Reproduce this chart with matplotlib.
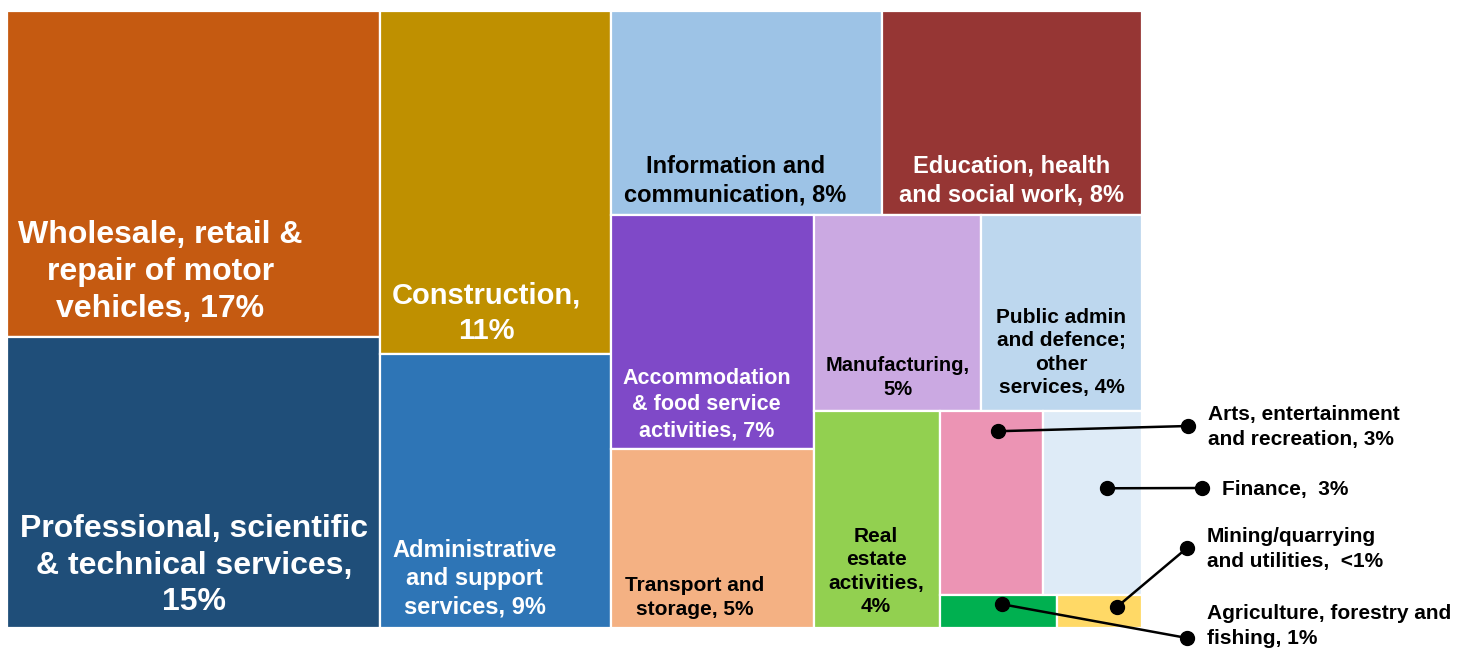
import matplotlib.pyplot as plt
from matplotlib.patches import Rectangle

plt.rcParams['font.family'] = ['Liberation Sans', 'DejaVu Sans']
plt.rcParams['font.weight'] = 'bold'

# share of businesses by industry (% )
sectors = ['Wholesale, retail &\nrepair of motor\nvehicles, 17%',
           'Professional, scientific\n& technical services,\n15%',
           'Construction,\n11%',
           'Administrative\nand support\nservices, 9%',
           'Information and\ncommunication, 8%',
           'Education, health\nand social work, 8%',
           'Accommodation\n& food service\nactivities, 7%',
           'Transport and\nstorage, 5%',
           'Manufacturing,\n5%',
           'Public admin\nand defence;\nother\nservices, 4%',
           'Real\nestate\nactivities,\n4%',
           'Arts, entertainment\nand recreation, 3%',
           'Finance,  3%',
           'Agriculture, forestry and\nfishing, 1%',
           'Mining/quarrying\nand utilities,  <1%']
shares = [17.4, 15.5, 11.3, 9.0, 7.9, 7.6, 6.8, 5.2, 4.65, 4.5, 3.9, 2.7, 2.6, 0.55, 0.4]
colors = ['#C55A11', '#1F4E79', '#BF9000', '#2E75B6', '#9DC3E6', '#963634',
          '#7F49C8', '#F4B183', '#CBA9E2', '#BDD7EE', '#92D050', '#EC94B4',
          '#DEEBF7', '#00B050', '#FFD966']

# how the cells are nested: 'h' = side by side, 'v' = stacked
tree = ('h', [('v', [0, 1]),
              ('v', [2, 3]),
              ('v', [('h', [4, 5]),
                     ('h', [('v', [6, 7]),
                            ('v', [('h', [8, 9]),
                                   ('h', [10, ('v', [('h', [11, 12]), ('h', [13, 14])])])])])])])


def total(node):
    if isinstance(node, int):
        return shares[node]
    return sum(total(c) for c in node[1])


def layout(node, x, y, w, h, out):
    if isinstance(node, int):
        out[node] = (x, y, w, h)
        return
    kind, kids = node
    s = total(node)
    pos = 0
    for c in kids:
        f = total(c) / s
        if kind == 'h':
            layout(c, x + pos * w, y, w * f, h, out)
        else:
            layout(c, x, y + pos * h, w, h * f, out)
        pos += f


fig = plt.figure(figsize=(14.61, 6.48), dpi=100)
ax = fig.add_axes([0, 0, 1, 1])
ax.set_xlim(0, 1461)
ax.set_ylim(648, 0)
ax.axis('off')

rects = {}
layout(tree, 7, 11, 1135, 617, rects)

for i, (x, y, w, h) in rects.items():
    ax.add_patch(Rectangle((x, y), w, h, facecolor=colors[i], edgecolor='white', lw=1.6))

# labels inside the cells: (relative x, relative y, font size, colour)
inside = {0: (0.41, 0.80, 23, 'white'),
          1: (0.50, 0.785, 23, 'white'),
          2: (0.46, 0.88, 21, 'white'),
          3: (0.41, 0.82, 17, 'white'),
          4: (0.46, 0.83, 17, 'black'),
          5: (0.50, 0.83, 17, 'white'),
          6: (0.47, 0.81, 15.5, 'white'),
          7: (0.41, 0.83, 15, 'black'),
          8: (0.50, 0.83, 14.5, 'black'),
          9: (0.50, 0.70, 15, 'black'),
          10: (0.49, 0.74, 15, 'black')}
for i, (fx, fy, fs, tc) in inside.items():
    x, y, w, h = rects[i]
    ax.text(x + fx * w, y + fy * h, sectors[i], ha='center', va='center',
            fontsize=fs, color=tc, linespacing=1.3)

# small ones get a callout line: (dot inside cell rel x, rel y, outer dot, text x, text y)
callouts = {11: (0.56, 0.11, (1188, 426), 1208, 427),
            12: (0.65, 0.42, (1202, 488), 1222, 489),
            14: (0.71, 0.35, (1187, 548), 1207, 549),
            13: (0.53, 0.28, (1187, 638), 1207, 626)}
for i, (fx, fy, (ox, oy), tx, ty) in callouts.items():
    x, y, w, h = rects[i]
    px, py = x + fx * w, y + fy * h
    ax.plot([px, ox], [py, oy], color='black', lw=1.8, marker='o', markersize=10,
            clip_on=False)
    ax.text(tx, ty, sectors[i], ha='left', va='center', fontsize=15, color='black',
            linespacing=1.35)

plt.savefig('out.png', dpi=100)
